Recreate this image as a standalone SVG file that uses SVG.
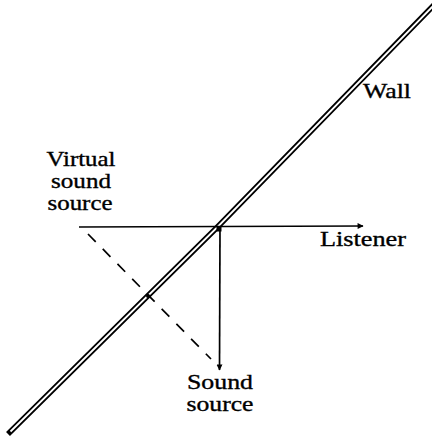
<svg xmlns="http://www.w3.org/2000/svg" width="432" height="439" viewBox="0 0 432 439">
<defs>
<style>
.lbl{font-family:"Liberation Serif","Times New Roman",serif;font-size:21px;fill:#000;stroke:#000;stroke-width:0.35}
.ln{stroke:#000;stroke-width:1.7;fill:none}
</style>
<marker id="ah" viewBox="0 0 10 10" refX="9" refY="5" markerWidth="8" markerHeight="6" markerUnits="userSpaceOnUse" orient="auto">
<path d="M0,0 L10,5 L0,10 z" fill="#000"/>
</marker>
</defs>
<rect width="432" height="439" fill="#fff"/>
<g id="wall">
<polyline points="8,434 217,227.5 436,3" fill="none" stroke="#000" stroke-width="5.6" stroke-linejoin="round"/>
<polyline points="10.5,431.5 217,227.5 436,3" fill="none" stroke="#fff" stroke-width="1.8" stroke-linejoin="round"/>
<text class="lbl" x="363" y="98" textLength="48" lengthAdjust="spacingAndGlyphs">Wall</text>
</g>
<g id="connectors">
<line class="ln" x1="79" y1="227" x2="363" y2="226" marker-end="url(#ah)"/>
<line class="ln" x1="220" y1="229" x2="219.5" y2="370" marker-end="url(#ah)"/>
<line class="ln" x1="88" y1="234" x2="211" y2="359" stroke-dasharray="11 10" stroke-width="2"/>
<rect x="216.5" y="226.5" width="5" height="5" fill="#000"/>
<circle cx="148" cy="296" r="2" fill="#000"/>
</g>
<g id="virtual-source">
<text class="lbl" x="81" y="166" text-anchor="middle" textLength="69" lengthAdjust="spacingAndGlyphs">Virtual</text>
<text class="lbl" x="81" y="188" text-anchor="middle" textLength="60" lengthAdjust="spacingAndGlyphs">sound</text>
<text class="lbl" x="80" y="210" text-anchor="middle" textLength="65" lengthAdjust="spacingAndGlyphs">source</text>
</g>
<g id="listener">
<text class="lbl" x="320" y="246" textLength="86" lengthAdjust="spacingAndGlyphs">Listener</text>
</g>
<g id="sound-source">
<text class="lbl" x="220" y="389" text-anchor="middle" textLength="66" lengthAdjust="spacingAndGlyphs">Sound</text>
<text class="lbl" x="220" y="411" text-anchor="middle" textLength="67" lengthAdjust="spacingAndGlyphs">source</text>
</g>
</svg>
